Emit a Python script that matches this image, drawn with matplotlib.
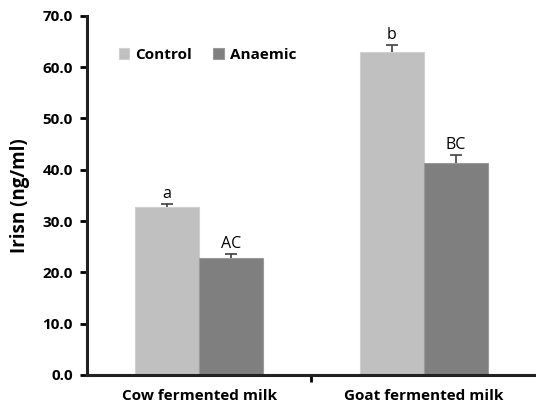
# Irisn levels by milk type, control vs anaemic
import numpy as np
import matplotlib.pyplot as plt

plt.rcParams['font.family'] = ['Open Sans', 'DejaVu Sans']

categories = ['Cow fermented milk', 'Goat fermented milk']
control = [32.7, 63.0]
control_err = [0.7, 1.4]
anaemic = [22.8, 41.3]
anaemic_err = [0.8, 1.5]
control_labels = ['a', 'b']
anaemic_labels = ['AC', 'BC']

fig = plt.figure(figsize=(5.36, 4.07), dpi=100)
ax = fig.add_axes([0.162, 0.079, 0.838, 0.882])

x = np.arange(len(categories))
w = 0.285
err_style = dict(ecolor='#404040', elinewidth=1.2, capsize=4, capthick=1.2)

b1 = ax.bar(x - w / 2, control, w, color='#c0c0c0', edgecolor='#d0d0d0', linewidth=0.8,
            yerr=[np.zeros(2), control_err], error_kw=err_style, label='Control')
b2 = ax.bar(x + w / 2, anaemic, w, color='#7f7f7f', edgecolor='#9a9a9a', linewidth=0.8,
            yerr=[np.zeros(2), anaemic_err], error_kw=err_style, label='Anaemic')

# only the upper half of each error bar is shown, so drop the caps at the bar tops
for bars, vals in [(b1, control), (b2, anaemic)]:
    for cap in bars.errorbar.lines[1]:
        if np.allclose(cap.get_ydata(), vals):
            cap.set_visible(False)

# significance letters above the error bars
for i in range(len(categories)):
    ax.text(x[i] - w / 2, control[i] + control_err[i] + 0.4, control_labels[i],
            ha='center', va='bottom', fontsize=11.5)
    ax.text(x[i] + w / 2, anaemic[i] + anaemic_err[i] + 0.4, anaemic_labels[i],
            ha='center', va='bottom', fontsize=11.5)

ax.set_xlim(-0.5, 1.5)
ax.set_ylim(0, 70)
ax.set_yticks(np.arange(0, 71, 10))
ax.set_yticklabels([f'{v:.1f}' for v in np.arange(0, 71, 10)], fontsize=11, fontweight='bold')
ax.set_xticks(x)
ax.set_xticklabels(categories, fontsize=11, fontweight='bold')
ax.tick_params(axis='x', length=0, pad=10)
ax.set_xticks([0.5], minor=True)
ax.tick_params(axis='x', which='minor', length=5, width=2, direction='out')
ax.tick_params(axis='y', length=5, width=2, direction='out', pad=5)
ax.set_ylabel('Irisn (ng/ml)', fontsize=13.5, fontweight='bold', labelpad=9)

for side in ['top', 'right']:
    ax.spines[side].set_visible(False)
for side in ['left', 'bottom']:
    ax.spines[side].set_linewidth(2.2)
    ax.spines[side].set_color('#222222')

leg = ax.legend(loc='upper left', bbox_to_anchor=(0.04, 0.95), ncol=2, frameon=False,
                prop={'weight': 'bold', 'size': 11}, handlelength=0.7, handleheight=0.7,
                handletextpad=0.4, columnspacing=1.4)

fig.savefig('out.png', dpi=100)
